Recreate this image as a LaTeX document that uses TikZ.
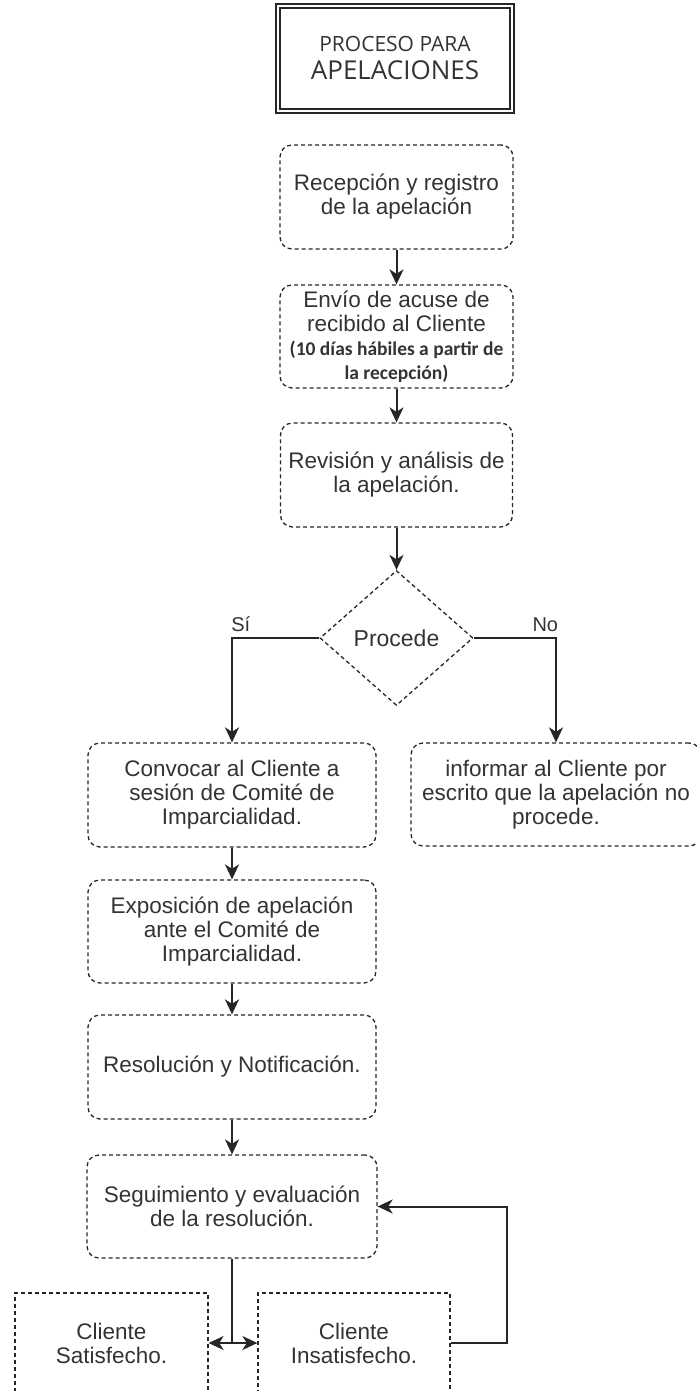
\documentclass[tikz,border=0pt]{standalone}
\usepackage{fontspec}
\setmainfont{Liberation Sans}
\newfontfamily\notafont{Carlito}
\newfontfamily\titulofont{Open Sans}
\usetikzlibrary{arrows.meta,shapes.geometric}

\newcommand{\notatxt}{\notafont\bfseries\fontsize{19.5}{22}\selectfont}
\tikzset{
	paso/.style={draw=black!85, dash pattern=on 4pt off 3pt, line width=1.3pt,
		rounded corners=12pt, align=center, inner sep=0pt, text=black!80,
		font=\fontsize{22.5}{24}\selectfont},
	cliente/.style={paso, rounded corners=0pt},
	flecha/.style={draw=black!85, line width=2pt, -{Stealth[length=15pt,width=14pt,inset=4.5pt]}},
	etiqueta/.style={inner sep=0pt, text=black!80, font=\fontsize{20}{22}\selectfont}
}

\begin{document}
\begin{tikzpicture}[x=1pt,y=-1pt]
		\useasboundingbox (0,0) rectangle (696,1391);
		% titulo
		\node[draw=black!85, line width=1.8pt, double=white, double distance=2pt,
			minimum width=234pt, minimum height=105pt, inner sep=0pt, align=center, text=black!80,
			font=\titulofont\fontsize{26}{28}\selectfont]
			(titulo) at (395,58.5)
			{{\fontsize{21}{28}\selectfont PROCESO PARA}\\APELACIONES};
		
		% columna central
		\node[paso, minimum width=233pt, minimum height=104pt] (recep) at (396.5,197)
			{Recepción y registro\\de la apelación};
		\node[paso, minimum width=233pt, minimum height=103pt] (acuse) at (396.5,336.5)
			{Envío de acuse de\\recibido al Cliente\\{\notatxt (10 días hábiles a partir de}\\{\notatxt la recepción)}};
		\node[paso, minimum width=232pt, minimum height=104pt] (revis) at (396.5,475)
			{Revisión y análisis de\\la apelación.};
		\node[paso, diamond, rounded corners=0pt, aspect=1.13, minimum width=153pt, minimum height=135pt,
			font=\fontsize{23}{24}\selectfont] (proc) at (396.5,638) {Procede};
		
		% ramas
		\node[paso, minimum width=288pt, minimum height=104pt] (convoc) at (232,795)
			{Convocar al Cliente a\\sesión de Comité de\\Imparcialidad.};
		\node[paso, minimum width=290pt, minimum height=103pt] (inform) at (556,794.5)
			{informar al Cliente por\\escrito que la apelación no\\procede.};
		\node[paso, minimum width=288pt, minimum height=103pt] (expos) at (232,931.5)
			{Exposición de apelación\\ante el Comité de\\Imparcialidad.};
		\node[paso, minimum width=288pt, minimum height=104pt] (resol) at (232,1067)
			{Resolución y Notificación.};
		\node[paso, minimum width=290pt, minimum height=103pt] (segui) at (232,1206.5)
			{Seguimiento y evaluación\\de la resolución.};
		\node[cliente, minimum width=193pt, minimum height=100pt] (satis) at (111.5,1343)
			{Cliente\\Satisfecho.};
		\node[cliente, minimum width=192pt, minimum height=100pt] (insat) at (354,1343)
			{Cliente\\Insatisfecho.};
		
		% conectores
		\draw[flecha] (recep.south) -- (acuse.north);
		\draw[flecha] (acuse.south) -- (revis.north);
		\draw[flecha] (revis.south) -- (proc.north);
		\draw[flecha] (proc.west) -| node[etiqueta, above=5pt, pos=0.45] {Sí} (convoc.north);
		\draw[flecha] (proc.east) -| node[etiqueta, above=5pt, pos=0.435] {No} (inform.north);
		\draw[flecha] (convoc.south) -- (expos.north);
		\draw[flecha] (expos.south) -- (resol.north);
		\draw[flecha] (resol.south) -- (segui.north);
		\draw[flecha] (segui.south) |- (satis.east);
		\draw[flecha] (segui.south) |- (insat.west);
		\draw[flecha] (insat.east) -- ++(56,0) |- (segui.east);
	\end{tikzpicture}
\end{document}
